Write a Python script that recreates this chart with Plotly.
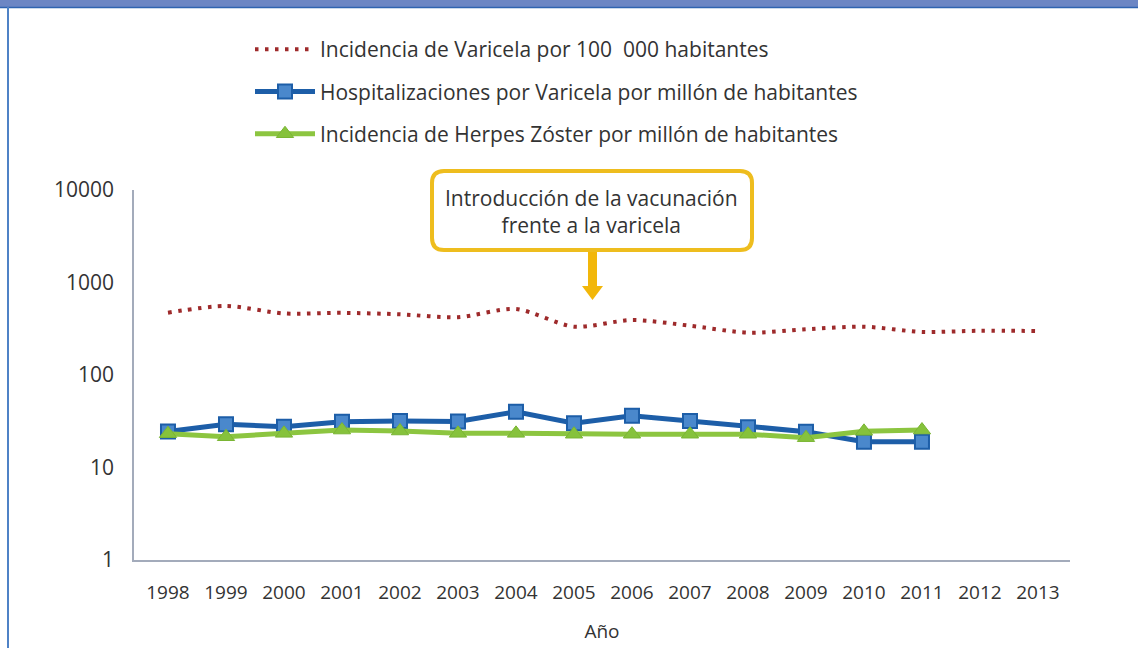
import plotly.graph_objects as go

# ---------------- data ----------------
years = ["1998", "1999", "2000", "2001", "2002", "2003", "2004", "2005",
         "2006", "2007", "2008", "2009", "2010", "2011", "2012", "2013"]
varicela_100k = [472, 557, 463, 470, 453, 421, 517, 333,
                 393, 341, 287, 312, 333, 292, 301, 299]
hosp_years = years[:14]
hosp_millon = [24.5, 29.3, 27.6, 31.3, 31.8, 31.5, 40.1, 30.1,
               36.3, 31.8, 27.2, 24.4, 19.0, 19.0]
hz_years = years[:14]
herpes_millon = [23.2, 21.5, 23.4, 25.4, 24.8, 23.4, 23.4, 22.9,
                 22.9, 22.9, 22.9, 21.0, 24.6, 25.4]
y_ticks = [1, 10, 100, 1000, 10000]
y_tick_labels = ["1", "10", "100", "1000", "10000"]

legend_names = ["Incidencia de Varicela por 100  000 habitantes",
                "Hospitalizaciones por Varicela por millón de habitantes",
                "Incidencia de Herpes Zóster por millón de habitantes"]
note_text = "Introducción de la vacunación<br>frente a la varicela"

# ---------------- layout geometry ----------------
W, H = 1138, 648
L, R, T, B = 134, 68, 190, 88
PW, PH = W - L - R, H - T - B


def px(x):
    return (x - L) / PW


def py(y):
    return (H - B - y) / PH


FONT = "Open Sans"
TXT = "#333333"

fig = go.Figure()

fig.add_trace(go.Scatter(
    x=years, y=varicela_100k, name=legend_names[0], mode="lines",
    line=dict(color="#9e2a2b", width=4, dash="3.5px,6.5px", shape="spline", smoothing=0.8),
    legendgroup="a"))
fig.add_trace(go.Scatter(
    x=hosp_years, y=hosp_millon, name=legend_names[1], mode="lines+markers",
    line=dict(color="#1d5ea8", width=5),
    marker=dict(symbol="square", size=14, color="#4a88cc",
                line=dict(color="#1d5ea8", width=2)),
    legendgroup="b"))
fig.add_trace(go.Scatter(
    x=hz_years, y=herpes_millon, name=legend_names[2], mode="lines+markers",
    line=dict(color="#8cc540", width=5),
    marker=dict(symbol="triangle-up", size=15, color="#86c23c",
                line=dict(color="#7ab534", width=1)),
    legendgroup="c"))

# rounded box for the note
bx0, bx1, by0, by1, r = 432, 752, 171, 250, 12
rx, ry = r / PW, r / PH
x0, x1, y0, y1 = px(bx0), px(bx1), py(by1), py(by0)
path = (f"M {x0+rx},{y0} L {x1-rx},{y0} Q {x1},{y0} {x1},{y0+ry} "
        f"L {x1},{y1-ry} Q {x1},{y1} {x1-rx},{y1} L {x0+rx},{y1} "
        f"Q {x0},{y1} {x0},{y1-ry} L {x0},{y0+ry} Q {x0},{y0} {x0+rx},{y0} Z")

shapes = [
    # top band
    dict(type="rect", xref="paper", yref="paper", x0=px(0), x1=px(W), y0=py(7), y1=py(0),
         fillcolor="#6c86c4", line=dict(width=0), layer="above"),
    dict(type="line", xref="paper", yref="paper", x0=px(0), x1=px(W), y0=py(7.5), y1=py(7.5),
         line=dict(color="#2f63b0", width=1.5)),
    # left border
    dict(type="line", xref="paper", yref="paper", x0=px(8), x1=px(8), y0=py(7), y1=py(H),
         line=dict(color="#4f82c6", width=2)),
    # note box
    dict(type="path", xref="paper", yref="paper", path=path,
         fillcolor="white", line=dict(color="#eebd1e", width=4)),
    # arrow stem
    dict(type="rect", xref="paper", yref="paper", x0=px(588), x1=px(597), y0=py(288), y1=py(252),
         fillcolor="#f2b70a", line=dict(width=0)),
    # arrow head
    dict(type="path", xref="paper", yref="paper",
         path=f"M {px(582)},{py(286)} L {px(603)},{py(286)} L {px(592.5)},{py(300)} Z",
         fillcolor="#f2b70a", line=dict(width=0)),
]

annotations = [
    dict(xref="paper", yref="paper", x=px(591), y=py(211), text=note_text,
         showarrow=False, align="center", xanchor="center", yanchor="middle",
         font=dict(family=FONT, size=21, color=TXT)),
]

fig.update_layout(
    width=W, height=H,
    margin=dict(l=L, r=R, t=T, b=B, autoexpand=False),
    paper_bgcolor="white", plot_bgcolor="white",
    font=dict(family=FONT, size=18, color=TXT),
    showlegend=True,
    legend=dict(x=px(250), y=py(29), xanchor="left", yanchor="top",
                font=dict(family=FONT, size=21, color=TXT),
                tracegroupgap=12, bgcolor="rgba(0,0,0,0)", itemwidth=60),
    xaxis=dict(type="category", range=[-0.586, 15.552], showgrid=False, zeroline=False,
               showline=True, linecolor="#a3abbb", linewidth=1.5, ticks="",
               ticklabelstandoff=14,
               tickfont=dict(family=FONT, size=19, color=TXT),
               title=dict(text="Año", standoff=21, font=dict(family=FONT, size=19, color=TXT))),
    yaxis=dict(type="log", range=[0, 4], showgrid=False, zeroline=False,
               showline=True, linecolor="#a3abbb", linewidth=1.5, ticks="",
               tickvals=y_ticks, ticktext=y_tick_labels, ticklabelstandoff=14,
               tickfont=dict(family=FONT, size=21, color=TXT)),
    shapes=shapes, annotations=annotations,
)

fig.write_html("out.html", config={"displayModeBar": False},
               post_script="document.body.style.margin='0';document.body.style.padding='0';")
